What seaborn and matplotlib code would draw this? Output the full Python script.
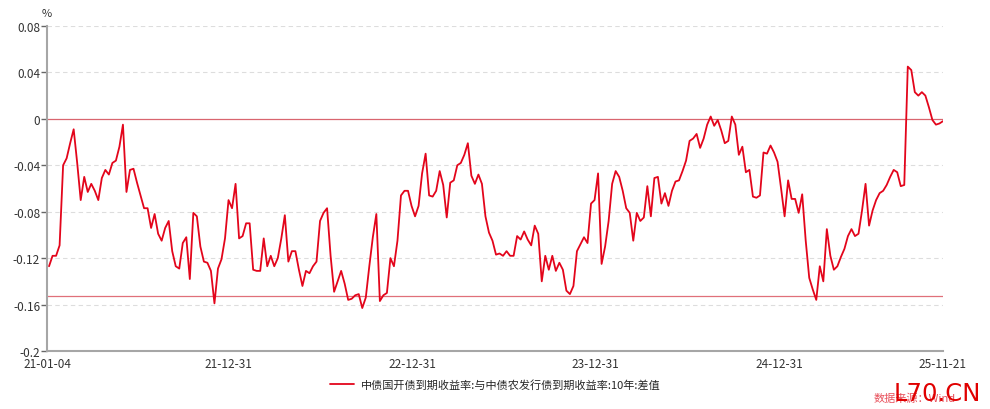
import matplotlib
matplotlib.use("Agg")
import matplotlib.pyplot as plt
import matplotlib.dates as mdates
import pandas as pd
import seaborn as sns

# weekly readings (Fridays) of the 10y CDB - ADBC yield spread, %
spread = [
    -0.127, -0.118, -0.118, -0.109, -0.040, -0.034, -0.021, -0.009, -0.038, -0.070,
    -0.050, -0.063, -0.056, -0.062, -0.070, -0.051, -0.044, -0.048, -0.038, -0.036,
    -0.024, -0.005, -0.063, -0.044, -0.043, -0.055, -0.066, -0.077, -0.077, -0.094,
    -0.082, -0.099, -0.105, -0.094, -0.088, -0.114, -0.127, -0.129, -0.107, -0.102,
    -0.138, -0.081, -0.084, -0.110, -0.123, -0.124, -0.131, -0.159, -0.129, -0.121,
    -0.103, -0.070, -0.077, -0.056, -0.103, -0.101, -0.090, -0.090, -0.130, -0.131,
    -0.131, -0.103, -0.127, -0.118, -0.127, -0.120, -0.103, -0.083, -0.123, -0.114,
    -0.114, -0.130, -0.144, -0.131, -0.133, -0.127, -0.123, -0.088, -0.081, -0.077,
    -0.118, -0.149, -0.140, -0.131, -0.142, -0.156, -0.155, -0.152, -0.151, -0.163,
    -0.154, -0.127, -0.102, -0.082, -0.157, -0.152, -0.150, -0.120, -0.127, -0.105,
    -0.066, -0.062, -0.062, -0.075, -0.084, -0.075, -0.047, -0.030, -0.066, -0.067,
    -0.062, -0.045, -0.057, -0.085, -0.055, -0.053, -0.040, -0.038, -0.031, -0.021,
    -0.049, -0.056, -0.048, -0.056, -0.084, -0.098, -0.105, -0.117, -0.116, -0.118,
    -0.114, -0.118, -0.118, -0.101, -0.104, -0.097, -0.104, -0.109, -0.092, -0.099,
    -0.140, -0.118, -0.130, -0.118, -0.131, -0.124, -0.130, -0.148, -0.151, -0.144,
    -0.114, -0.108, -0.102, -0.107, -0.073, -0.070, -0.047, -0.125, -0.110, -0.088,
    -0.056, -0.045, -0.050, -0.062, -0.077, -0.081, -0.105, -0.081, -0.088, -0.085,
    -0.058, -0.084, -0.051, -0.050, -0.073, -0.064, -0.075, -0.062, -0.054, -0.053,
    -0.045, -0.036, -0.019, -0.017, -0.013, -0.025, -0.017, -0.005, 0.002, -0.006,
    -0.001, -0.010, -0.021, -0.019, 0.002, -0.005, -0.031, -0.024, -0.046, -0.044,
    -0.067, -0.068, -0.066, -0.029, -0.030, -0.023, -0.029, -0.037, -0.060, -0.084,
    -0.053, -0.069, -0.069, -0.081, -0.065, -0.105, -0.137, -0.147, -0.156, -0.127,
    -0.140, -0.095, -0.118, -0.130, -0.127, -0.119, -0.112, -0.101, -0.095, -0.101,
    -0.099, -0.079, -0.056, -0.092, -0.079, -0.070, -0.064, -0.062, -0.057, -0.050,
    -0.044, -0.046, -0.058, -0.057, 0.045, 0.042, 0.023, 0.020, 0.023, 0.020,
    0.010, -0.001, -0.005, -0.004, -0.002,
]
dates = pd.date_range("2021-01-08", periods=len(spread), freq="7D")

y_ticks = [0.08, 0.04, 0, -0.04, -0.08, -0.12, -0.16, -0.2]
y_labels = ["0.08", "0.04", "0", "-0.04", "-0.08", "-0.12", "-0.16", "-0.2"]
x_ticks = ["2021-01-04", "2021-12-31", "2022-12-31", "2023-12-31", "2024-12-31", "2025-11-21"]
ref_level = -0.153
series_name = "中债国开债到期收益率:与中债农发行债到期收益率:10年:差值"

df = pd.DataFrame({"date": dates, "spread": spread})

sns.set_style("white")
plt.rcParams["font.family"] = ["Noto Sans CJK SC", "DejaVu Sans"]

fig = plt.figure(figsize=(9.9, 4.1), dpi=100)
ax = fig.add_axes([0.0475, 0.1415, 0.905, 0.7927])

for t in y_ticks[:2] + y_ticks[3:-1]:
    ax.axhline(t, color="#dddddd", lw=0.8, ls=(0, (4, 3)), zorder=0)
ax.axhline(0, color="#d9656f", lw=0.9, zorder=1)
ax.axhline(ref_level, color="#e0707a", lw=0.9, zorder=1)

sns.lineplot(data=df, x="date", y="spread", ax=ax, color="#e3051b", lw=1.3, label=series_name)

ax.set_ylim(-0.2, 0.08)
ax.set_xlim(pd.Timestamp(x_ticks[0]), pd.Timestamp(x_ticks[-1]))
ax.set_yticks(y_ticks)
ax.set_yticklabels(y_labels)
ax.set_xticks([pd.Timestamp(d) for d in x_ticks])
ax.xaxis.set_major_formatter(mdates.DateFormatter("%y-%m-%d"))
ax.set_xlabel("")
ax.set_ylabel("")

for s in ["top", "right"]:
    ax.spines[s].set_visible(False)
for s in ["left", "bottom"]:
    ax.spines[s].set_color("#a6a6a6")
    ax.spines[s].set_linewidth(1.5)
ax.tick_params(axis="y", left=True, length=4, width=1, color="#666666", labelsize=8.5, labelcolor="#333333", pad=1)
ax.tick_params(axis="x", bottom=False, length=0, labelsize=8.5, labelcolor="#333333", pad=4)

ax.text(0.0, 1.04, "%", transform=ax.transAxes, fontsize=8, color="#333333", ha="center", va="center")

ax.legend(loc="upper center", bbox_to_anchor=(0.5, -0.055), frameon=False, fontsize=8,
          handlelength=2.2, handletextpad=0.6)

fig.text(0.882, 0.02, "数据来源：Wind", fontsize=8, color="#e8505b")
fig.text(0.903, 0.022, "L70.CN", fontsize=17.5, color="#e00000", family="DejaVu Sans")

fig.savefig("out.png", dpi=100)
